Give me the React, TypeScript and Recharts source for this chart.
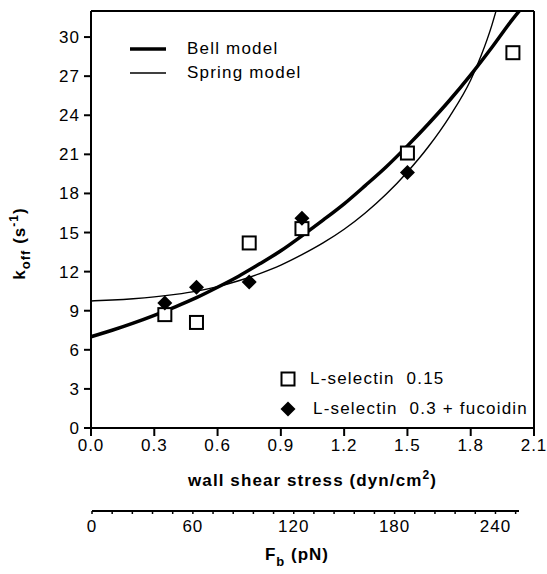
import { ComposedChart, Legend, Line, ReferenceLine, Scatter, XAxis, YAxis } from 'recharts'

const FONT = '"Liberation Sans", Arial, Helvetica, sans-serif'

const stressTicks = [0, 0.3, 0.6, 0.9, 1.2, 1.5, 1.8, 2.1]
const koffTicks = [0, 3, 6, 9, 12, 15, 18, 21, 24, 27, 30]
const forceTicks = [0, 12, 24, 36, 48, 60, 72, 84, 96, 108, 120, 132, 144, 156, 168, 180, 192, 204, 216, 228, 240, 252]
const forceLabels = [0, 60, 120, 180, 240]

// L-selectin 0.15 (open squares)
const selectinLow = [
  { x: 0.35, y: 8.7 },
  { x: 0.5, y: 8.1 },
  { x: 0.75, y: 14.2 },
  { x: 1.0, y: 15.3 },
  { x: 1.5, y: 21.1 },
  { x: 2.0, y: 28.8 },
]

// L-selectin 0.3 + fucoidin (filled diamonds)
const selectinFucoidin = [
  { x: 0.35, y: 9.6 },
  { x: 0.5, y: 10.8 },
  { x: 0.75, y: 11.2 },
  { x: 1.0, y: 16.1 },
  { x: 1.5, y: 19.6 },
]

// fitted curves
const bellModel = [
  { x: 0, y: 7.0 }, { x: 0.1, y: 7.5 }, { x: 0.2, y: 8.05 }, { x: 0.3, y: 8.65 },
  { x: 0.4, y: 9.3 }, { x: 0.5, y: 10.0 }, { x: 0.6, y: 10.8 }, { x: 0.7, y: 11.65 },
  { x: 0.8, y: 12.6 }, { x: 0.9, y: 13.6 }, { x: 1.0, y: 14.75 }, { x: 1.1, y: 15.95 },
  { x: 1.2, y: 17.2 }, { x: 1.3, y: 18.6 }, { x: 1.4, y: 20.05 }, { x: 1.5, y: 21.65 },
  { x: 1.6, y: 23.35 }, { x: 1.7, y: 25.15 }, { x: 1.8, y: 27.1 }, { x: 1.9, y: 29.2 },
  { x: 2.0, y: 31.4 }, { x: 2.03, y: 32 },
]

const springModel = [
  { x: 0, y: 9.75 }, { x: 0.1, y: 9.82 }, { x: 0.2, y: 9.92 }, { x: 0.3, y: 10.06 },
  { x: 0.4, y: 10.25 }, { x: 0.5, y: 10.5 }, { x: 0.6, y: 10.85 }, { x: 0.7, y: 11.3 },
  { x: 0.8, y: 11.85 }, { x: 0.9, y: 12.5 }, { x: 1.0, y: 13.3 }, { x: 1.1, y: 14.2 },
  { x: 1.2, y: 15.25 }, { x: 1.3, y: 16.5 }, { x: 1.4, y: 17.95 }, { x: 1.5, y: 19.65 },
  { x: 1.6, y: 21.6 }, { x: 1.7, y: 23.9 }, { x: 1.8, y: 26.7 }, { x: 1.85, y: 28.6 },
  { x: 1.9, y: 30.9 }, { x: 1.92, y: 32 },
]

const lineWidths: Record<string, number> = { 'Bell model': 3.5, 'Spring model': 1.4 }

const forceRows = forceTicks.map((f) => ({ f }))

function OpenSquare(props: any) {
  const { cx, cy } = props
  if (cx == null || cy == null) return null
  return <rect x={cx - 6.5} y={cy - 6.5} width={13} height={13} fill="#fff" stroke="#000" strokeWidth={2} />
}

function Diamond(props: any) {
  const { cx, cy } = props
  if (cx == null || cy == null) return null
  const r = 7.5
  return <path d={`M${cx},${cy - r}L${cx + r},${cy}L${cx},${cy + r}L${cx - r},${cy}Z`} fill="#000" />
}

function renderLegend(props: any) {
  const payload: any[] = props.payload || []
  const lines = payload.filter((p) => p.type === 'line')
  const marks = payload.filter((p) => p.type !== 'line')
  const textStyle = { fontFamily: FONT, fontSize: 17, letterSpacing: 1.2, color: '#000', whiteSpace: 'pre' as const }
  return (
    <div>
      <div style={{ position: 'absolute', left: 130, top: 37 }}>
        {lines.map((e) => (
          <div key={e.value} style={{ display: 'flex', alignItems: 'center', height: 24 }}>
            <svg width={36} height={8}>
              <line x1={0} x2={36} y1={4} y2={4} stroke="#000" strokeWidth={lineWidths[e.value] || 1.5} />
            </svg>
            <span style={{ ...textStyle, marginLeft: 21 }}>{e.value}</span>
          </div>
        ))}
      </div>
      <div style={{ position: 'absolute', left: 278, top: 364 }}>
        {marks.map((e) => (
          <div key={e.value} style={{ display: 'flex', alignItems: 'center', height: 30 }}>
            <svg width={20} height={20}>
              {e.type === 'square' ? (
                <rect x={3.5} y={3.5} width={13} height={13} fill="#fff" stroke="#000" strokeWidth={2} />
              ) : (
                <path d="M10,2.5L17.5,10L10,17.5L2.5,10Z" fill="#000" />
              )}
            </svg>
            <span style={{ ...textStyle, marginLeft: e.type === 'square' ? 12 : 15 }}>{e.value}</span>
          </div>
        ))}
      </div>
    </div>
  )
}

function ForceTick(props: any) {
  const { x, y, payload } = props
  const v = payload.value
  return (
    <g>
      <line x1={x} x2={x} y1={y} y2={y + 3} stroke="#000" strokeWidth={1.5} />
      {forceLabels.includes(v) && (
        <text x={x} y={y + 21} textAnchor="middle" fontFamily={FONT} fontSize={17} letterSpacing={1} fill="#000">
          {v}
        </text>
      )}
    </g>
  )
}

export default function App() {
  return (
    <div style={{ position: 'absolute', left: 0, top: 0, width: 547, height: 574, background: '#fff' }}>
      <ComposedChart width={547} height={574} margin={{ top: 11, right: 13, left: 0, bottom: 0 }}>
        <XAxis
          dataKey="x"
          type="number"
          domain={[0, 2.1]}
          ticks={stressTicks}
          tickFormatter={(v: number) => v.toFixed(1)}
          height={146}
          tickSize={8}
          tickMargin={3}
          stroke="#000"
          strokeWidth={2}
          tick={{ fill: '#000', fontSize: 17, fontFamily: FONT, letterSpacing: 1 }}
          label={{
            content: (p: any) => {
              const vb = p.viewBox
              return (
                <text x={vb.x + vb.width / 2} y={vb.y + 58} textAnchor="middle" fontFamily={FONT} fontSize={17} fontWeight="bold" letterSpacing={1.1} fill="#000">
                  wall shear stress (dyn/cm
                  <tspan fontSize={12} dy={-7}>2</tspan>
                  <tspan dy={7}>)</tspan>
                </text>
              )
            },
          }}
        />
        <YAxis
          type="number"
          domain={[0, 32]}
          ticks={koffTicks}
          width={91}
          tickSize={7}
          tickMargin={4}
          stroke="#000"
          strokeWidth={2}
          tick={{ fill: '#000', fontSize: 17, fontFamily: FONT, letterSpacing: 1 }}
          label={{
            content: (p: any) => {
              const vb = p.viewBox
              const cx = 25
              const cy = vb.y + vb.height / 2 + 24
              return (
                <text x={cx} y={cy} transform={`rotate(-90, ${cx}, ${cy})`} textAnchor="middle" fontFamily={FONT} fontSize={17} fontWeight="bold" letterSpacing={1} fill="#000">
                  k
                  <tspan fontSize={13} dy={5}>off</tspan>
                  <tspan dy={-5}> (s</tspan>
                  <tspan fontSize={12} dy={-7}>-1</tspan>
                  <tspan dy={7}>)</tspan>
                </text>
              )
            },
          }}
        />
        <ReferenceLine y={32} stroke="#000" strokeWidth={2} />
        <ReferenceLine x={2.1} stroke="#000" strokeWidth={2} />
        <Line name="Bell model" data={bellModel} dataKey="y" type="monotone" stroke="#000" strokeWidth={3.5} dot={false} activeDot={false} legendType="line" isAnimationActive={false} />
        <Line name="Spring model" data={springModel} dataKey="y" type="monotone" stroke="#000" strokeWidth={1.4} dot={false} activeDot={false} legendType="line" isAnimationActive={false} />
        <Scatter name="L-selectin  0.15" data={selectinLow} dataKey="y" shape={<OpenSquare />} legendType="square" isAnimationActive={false} />
        <Scatter name="L-selectin  0.3 + fucoidin" data={selectinFucoidin} dataKey="y" shape={<Diamond />} legendType="diamond" isAnimationActive={false} />
        <Legend
          verticalAlign="middle"
          align="center"
          layout="horizontal"
          content={renderLegend}
          wrapperStyle={{ position: 'absolute', left: 0, top: 0, width: 0, height: 0, overflow: 'visible' }}
        />
      </ComposedChart>
      <div style={{ position: 'absolute', left: 0, top: 490 }}>
        <ComposedChart width={547} height={84} data={forceRows} margin={{ top: 0, right: 28, left: 92, bottom: 0 }}>
          <XAxis
            dataKey="f"
            type="number"
            domain={[0, 254]}
            ticks={forceTicks}
            height={63}
            tickSize={0}
            tickMargin={0}
            tickLine={false}
            stroke="#000"
            strokeWidth={2}
            tick={<ForceTick />}
            interval={0}
            label={{
              content: (p: any) => {
                const vb = p.viewBox
                return (
                  <text x={297} y={vb.y + 49} textAnchor="middle" fontFamily={FONT} fontSize={17} fontWeight="bold" letterSpacing={1} fill="#000">
                    F
                    <tspan fontSize={13} dy={6}>b</tspan>
                    <tspan dy={-6}> (pN)</tspan>
                  </text>
                )
              },
            }}
          />
          <YAxis hide domain={[0, 1]} />
        </ComposedChart>
      </div>
    </div>
  )
}
